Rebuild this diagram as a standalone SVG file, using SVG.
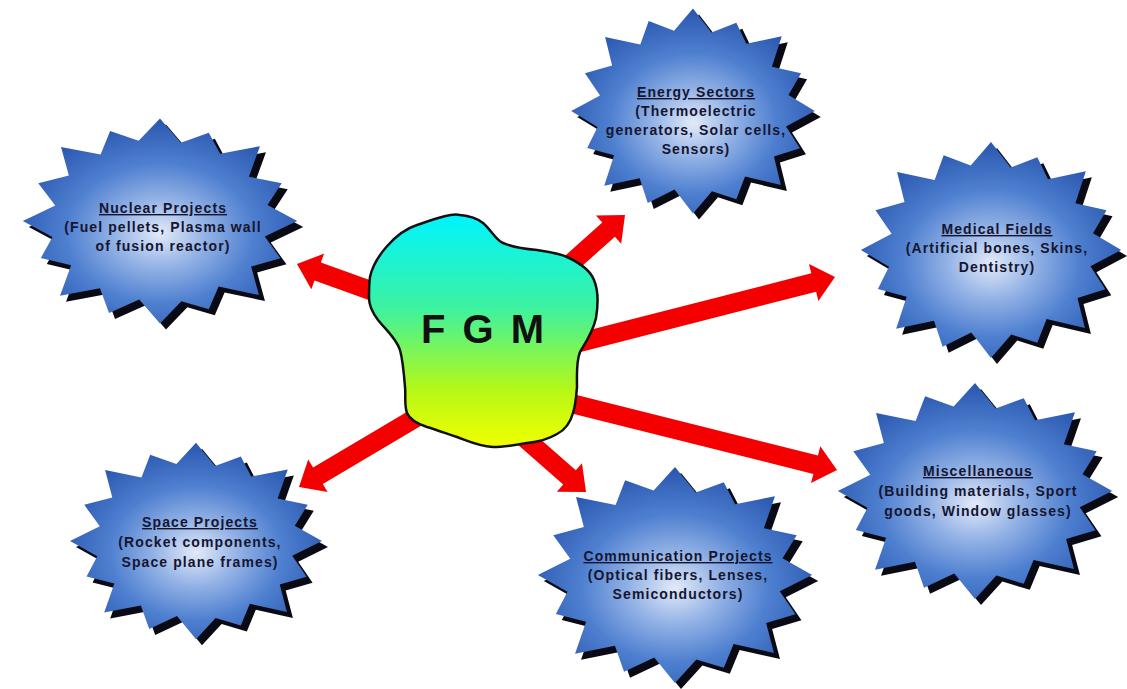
<svg xmlns="http://www.w3.org/2000/svg" xmlns:xlink="http://www.w3.org/1999/xlink" width="1127" height="689" viewBox="0 0 1127 689">
<defs>
<style>
.shadow{fill:#0a0a14;}
.burst{fill:url(#burstGrad);}
.lbl{font-family:"Liberation Sans",Arial,sans-serif;font-weight:bold;font-size:14px;letter-spacing:1.1px;fill:#151530;text-anchor:middle;}
.ttl{text-decoration:underline;}
.arrow{fill:#f40000;}
.fgm{font-family:"Liberation Sans",Arial,sans-serif;font-weight:bold;font-size:40px;letter-spacing:3px;fill:#111;text-anchor:middle;}
</style>
<radialGradient id="burstGrad" cx="50%" cy="56%" r="55%">
<stop offset="0" stop-color="#e2eaf8"/>
<stop offset="0.3" stop-color="#94b3e6"/>
<stop offset="0.62" stop-color="#4f80d0"/>
<stop offset="1" stop-color="#2a58b0"/>
</radialGradient>
<linearGradient id="blobGrad" x1="0" y1="0" x2="0" y2="1">
<stop offset="0" stop-color="#00f4ff"/>
<stop offset="0.4" stop-color="#3cf2a0"/>
<stop offset="0.75" stop-color="#b4f818"/>
<stop offset="1" stop-color="#f2ff00"/>
</linearGradient>
<path id="burst" d="M140,0 L106.9,16.3 L122.9,39.3 L93,47.9 L101,77.9 L59.8,69 L49.8,92.8 L21.8,84.6 L0,108 L-21.2,82.5 L-52,96.8 L-61.3,70.8 L-102,78.7 L-90.7,46.7 L-121.6,38.9 L-109.7,16.8 L-140,0 L-106.9,-16.3 L-124.2,-39.7 L-93,-47.9 L-101,-77.9 L-60.6,-69.9 L-50.9,-94.8 L-21.8,-84.6 L0,-108 L21.2,-82.5 L49.8,-92.8 L61.3,-70.8 L102,-78.7 L90.7,-46.7 L124.2,-39.7 L109.7,-16.8 Z"/>
</defs>
<rect width="1127" height="689" fill="#ffffff"/>

<g id="nuclear">
<use xlink:href="#burst" class="shadow" transform="translate(166,227) scale(0.98,0.95)"/>
<use xlink:href="#burst" class="burst" transform="translate(160,221) scale(0.98,0.95)"/>
<text class="lbl ttl" x="163" y="213">Nuclear Projects</text>
<text class="lbl" x="163" y="232">(Fuel pellets, Plasma wall</text>
<text class="lbl" x="163" y="251">of fusion reactor)</text>
</g>

<g id="energy">
<use xlink:href="#burst" class="shadow" transform="translate(699,117) scale(0.87,0.95)"/>
<use xlink:href="#burst" class="burst" transform="translate(693,111) scale(0.87,0.95)"/>
<text class="lbl ttl" x="696" y="97">Energy Sectors</text>
<text class="lbl" x="696" y="116">(Thermoelectric</text>
<text class="lbl" x="696" y="135">generators, Solar cells,</text>
<text class="lbl" x="696" y="154">Sensors)</text>
</g>

<g id="medical">
<use xlink:href="#burst" class="shadow" transform="translate(997,256) scale(0.93,1.0)"/>
<use xlink:href="#burst" class="burst" transform="translate(991,250) scale(0.93,1.0)"/>
<text class="lbl ttl" x="997" y="234">Medical Fields</text>
<text class="lbl" x="997" y="253">(Artificial bones, Skins,</text>
<text class="lbl" x="997" y="272">Dentistry)</text>
</g>

<g id="space">
<use xlink:href="#burst" class="shadow" transform="translate(202,547) scale(0.9,0.91)"/>
<use xlink:href="#burst" class="burst" transform="translate(196,541) scale(0.9,0.91)"/>
<text class="lbl ttl" x="200" y="527">Space Projects</text>
<text class="lbl" x="200" y="547">(Rocket components,</text>
<text class="lbl" x="200" y="567">Space plane frames)</text>
</g>

<g id="communication">
<use xlink:href="#burst" class="shadow" transform="translate(681,581) scale(0.98,1.0)"/>
<use xlink:href="#burst" class="burst" transform="translate(675,575) scale(0.98,1.0)"/>
<text class="lbl ttl" x="678" y="561">Communication Projects</text>
<text class="lbl" x="678" y="580">(Optical fibers, Lenses,</text>
<text class="lbl" x="678" y="599">Semiconductors)</text>
</g>

<g id="misc">
<use xlink:href="#burst" class="shadow" transform="translate(981,497) scale(0.98,1.0)"/>
<use xlink:href="#burst" class="burst" transform="translate(975,491) scale(0.98,1.0)"/>
<text class="lbl ttl" x="978" y="476">Miscellaneous</text>
<text class="lbl" x="978" y="496">(Building materials, Sport</text>
<text class="lbl" x="978" y="516">goods, Window glasses)</text>
</g>

<g id="connectors">
<polygon class="arrow" points="398.7,290.6 320.9,262.5 324.1,253.6 297,264 311.3,289.3 314.5,280.4 392.3,308.5"/>
<polygon class="arrow" points="564.2,282 614.9,236.7 621.2,243.8 625,215 595.9,215.5 602.3,222.6 551.6,267.8"/>
<polygon class="arrow" points="580.7,351.9 816.1,291.7 818.4,300.9 835,277 809,264.1 811.3,273.3 575.9,333.5"/>
<polygon class="arrow" points="567.9,412.4 813.4,473.9 811,483.1 837,470 820.3,446.2 818,455.4 572.6,394"/>
<polygon class="arrow" points="515.9,442.9 563.2,484.6 556.9,491.7 586,492 582,463.2 575.8,470.3 528.5,428.7"/>
<polygon class="arrow" points="423.2,402.3 313.1,467.6 308.2,459.4 299,487 327.6,492.1 322.8,484 432.9,418.7"/>
</g>

<g id="fgm">
<path d="M370,277 C374,258 395,232 417,225 C435,219 450,213 460,215 C472,216 478,219 483,223 C492,231 496,240 503,243 C515,248 525,249 537,250 C550,252 558,253 567,257 C580,263 590,270 594,280 C599,292 598,306 596,318 C593,332 586,342 580,352 C576,362 577,375 577,387 C576,400 575,407 573,413 C570,424 565,430 557,434 C547,440 537,442 527,443 C515,445 505,447 493,447 C478,446 468,441 457,437 C445,433 437,430 427,427 C418,424 410,420 407,413 C404,404 406,396 405,387 C404,374 403,361 400,350 C396,338 386,330 378,320 C372,312 369,305 369,298 C369,290 369,284 370,277 Z" fill="url(#blobGrad)" stroke="#111" stroke-width="2.5"/>
<text class="fgm" x="484" y="343">F G M</text>
</g>
</svg>
